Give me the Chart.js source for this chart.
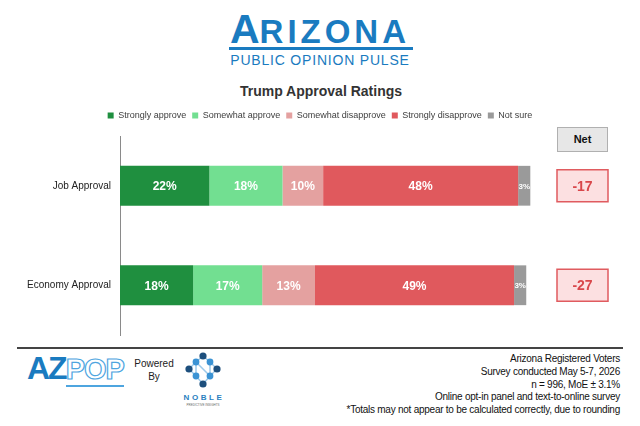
<!DOCTYPE html>
<html>
<head>
<meta charset="utf-8">
<script src="https://cdn.jsdelivr.net/npm/chart.js@4.4.1/dist/chart.umd.min.js"></script>
<style>
body{margin:0;width:640px;height:426px;background:#fff;font-family:"Liberation Sans",Arial,sans-serif;position:relative;overflow:hidden}
.abs{position:absolute}
#logoA{left:0;width:640px;top:6px;text-align:center;color:#1a7bc0;font-weight:bold;white-space:nowrap}
#logoA .big{font-size:41px}
#logoA .rest{font-size:33px;letter-spacing:4px}
#bar{left:229px;top:47px;width:184px;height:3px;background:#1a7bc0}
#pulse{left:0;width:640px;top:52px;text-align:center;color:#1a7bc0;font-size:14px;letter-spacing:0.8px}
#title{left:0;width:642px;top:83px;text-align:center;color:#333;font-size:14px;font-weight:bold}
#wrap{left:0;top:105px;width:640px;height:245px}
#netHead{left:557px;top:127px;width:49px;height:23px;background:#e7e7e7;border:1px solid #b0b0b0;text-align:center;line-height:23px;font-size:11px;font-weight:bold;color:#111}
#rule{left:17px;top:347px;width:606px;height:2px;background:#444}
#az{left:27px;top:350px;color:#1a7bc0;font-weight:bold;white-space:nowrap}
#az .a{font-size:32px;letter-spacing:-2px}
#az .p{font-size:29px;color:#fff;-webkit-text-stroke:1.2px #4ea5df;letter-spacing:-1px;border-bottom:2px solid #4ea5df}
#powered{left:132px;top:357px;width:44px;text-align:center;font-size:10px;line-height:13px;color:#222}
#noble{left:182px;top:352px}
#nobleTxt{left:180px;top:393px;width:48px;text-align:center;font-size:8px;font-weight:bold;letter-spacing:2.6px;color:#2a7fc0}
#nobleSub{left:180px;top:403px;width:46px;text-align:center;font-size:3px;color:#666}
#notes{right:20px;top:353px;text-align:right;font-size:10px;line-height:12.8px;letter-spacing:-0.25px;color:#111}
</style>
</head>
<body>
<div class="abs" id="logoA"><span class="big">A</span><span class="rest">RIZONA</span></div>
<div class="abs" id="bar"></div>
<div class="abs" id="pulse">PUBLIC OPINION PULSE</div>
<div class="abs" id="title">Trump Approval Ratings</div>
<div class="abs" id="wrap"><canvas id="chart"></canvas></div>
<div class="abs" id="netHead">Net</div>
<div class="abs" id="rule"></div>
<div class="abs" id="az"><span class="a">AZ</span><span class="p">POP</span></div>
<div class="abs" id="powered">Powered<br>By</div>
<svg class="abs" id="noble" width="44" height="40" viewBox="0 0 44 40">
<g stroke="#9cc9ea" stroke-width="1.5" fill="none">
<path d="M21 4 L14 10 L7 17 L14 24 L21 32 L28 24 L35 17 L28 10 Z"/>
<path d="M14 24 L14 10 L28 24 L28 10"/>
</g>
<g fill="#1d4f7d"><circle cx="21" cy="4" r="3.6"/><circle cx="7" cy="17" r="3.6"/><circle cx="35" cy="17" r="3.6"/><circle cx="21" cy="32" r="3.6"/></g>
<g fill="#3b93d4"><circle cx="14" cy="10" r="3.4"/><circle cx="28" cy="10" r="3.4"/><circle cx="14" cy="24" r="3.4"/><circle cx="28" cy="24" r="3.4"/></g>
</svg>
<div class="abs" id="nobleTxt">NOBLE</div>
<div class="abs" id="nobleSub">PREDICTIVE INSIGHTS</div>
<div class="abs" id="notes">Arizona Registered Voters<br>Survey conducted May 5-7, 2026<br>n = 996, MoE ± 3.1%<br>Online opt-in panel and text-to-online survey<br>*Totals may not appear to be calculated correctly, due to rounding</div>

<script>
// Data

const categories=["Job Approval","Economy Approval"];
const seriesNames=["Strongly approve","Somewhat approve","Somewhat disapprove","Strongly disapprove","Not sure"];
const stronglyApprove=[22,18];
const somewhatApprove=[18,17];
const somewhatDisapprove=[10,13];
const stronglyDisapprove=[48,49];
const notSure=[3,3];
const netValues=[-17,-27];

const seriesValues=[stronglyApprove,somewhatApprove,somewhatDisapprove,stronglyDisapprove,notSure];
const colors=["#1f8f3f","#72df91","#e4a1a0","#e0595d","#9a9a9a"];


// Labels inside bars + net boxes

const barLabels={
id:"barLabels",
afterDatasetsDraw(chart){
const ctx=chart.ctx;
ctx.save();
ctx.textAlign="center";
ctx.textBaseline="middle";
ctx.fillStyle="#fff";
chart.data.datasets.forEach((ds,i)=>{
chart.getDatasetMeta(i).data.forEach((bar,j)=>{
const w=Math.abs(bar.x-bar.base);
ctx.font=w<20?"bold 8px 'Liberation Sans'":"bold 12px 'Liberation Sans'";
ctx.fillText(ds.data[j]+"%",(bar.x+bar.base)/2,bar.y+1);
});
});
ctx.restore();
}
};

const netBoxes={
id:"netBoxes",
afterDraw(chart){
const ctx=chart.ctx;
const y=chart.scales.y;
ctx.save();
netValues.forEach((v,i)=>{
const cy=y.getPixelForValue(i);
ctx.fillStyle="#fce0e1";
ctx.strokeStyle="#e05b5f";
ctx.lineWidth=1.5;
ctx.fillRect(557,cy-16,51,32);
ctx.strokeRect(557,cy-16,51,32);
ctx.fillStyle="#d9474b";
ctx.font="bold 14px 'Liberation Sans'";
ctx.textAlign="center";
ctx.textBaseline="middle";
ctx.fillText(String(v),582.5,cy+1);
});
ctx.restore();
}
};


// Chart

new Chart(document.getElementById("chart"),{
type:"bar",
data:{
labels:categories,
datasets:seriesNames.map((name,i)=>({
label:name,
data:seriesValues[i],
backgroundColor:colors[i],
borderWidth:0,
barPercentage:0.4,
categoryPercentage:1
}))
},
options:{
indexAxis:"y",
responsive:true,
maintainAspectRatio:false,
animation:false,
layout:{padding:{top:0,right:0,bottom:4,left:0}},
plugins:{
legend:{
position:"top",
labels:{
boxWidth:6,
boxHeight:6,
padding:6,
color:"#404040",
font:{family:"Liberation Sans",size:9}
}
},
tooltip:{enabled:false}
},
scales:{
x:{
stacked:true,
position:"top",
min:0,
max:128,
ticks:{display:false},
grid:{display:false},
border:{display:false},
afterFit(s){s.height=6;}
},
y:{
stacked:true,
grid:{display:false,drawTicks:false},
border:{display:true,color:"#8a8a8a",width:1},
ticks:{padding:9,color:"#222",font:{family:"Liberation Sans",size:10}},
afterFit(s){s.width=120;}
}
}
},
plugins:[barLabels,netBoxes]
});
</script>
</body>
</html>
